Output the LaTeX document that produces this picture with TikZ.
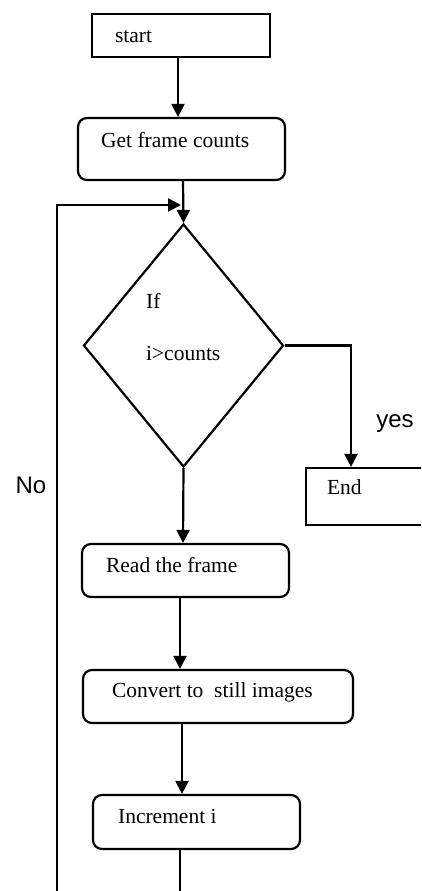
\documentclass[tikz,border=0pt]{standalone}
\usepackage{fontspec}
\setmainfont{Liberation Serif}
\newfontfamily\labelfont{Liberation Sans}
\usetikzlibrary{shapes.geometric,arrows.meta}
\begin{document}
\begin{tikzpicture}[x=1pt,y=-1pt,
  line width=2.2pt,
  sqbox/.style={draw,rectangle,inner sep=0pt},
  rbox/.style={draw,rectangle,rounded corners=9pt,inner sep=0pt},
  decision/.style={draw,diamond,inner sep=0pt,minimum width=200pt,minimum height=243pt,shape aspect=0.823},
  txt/.style={anchor=base west,inner sep=0pt,font=\fontsize{21.5}{25}\selectfont},
  side/.style={inner sep=0pt,font=\labelfont\fontsize{24}{28}\selectfont},
  arr/.style={-{Triangle[width=13pt,length=13pt]}}]
\clip (0,0) rectangle (421,891);
\fill[white] (0,0) rectangle (421,891);
% boxes
\node[sqbox,minimum width=178pt,minimum height=43pt] (start) at (181,35.5) {};
\node[rbox,minimum width=207pt,minimum height=62pt] (getf) at (181.5,149) {};
\node[decision] (dia) at (183.5,345.5) {};
\node[sqbox,minimum width=140pt,minimum height=57pt] (end) at (376,496.5) {};
\node[rbox,minimum width=207pt,minimum height=53pt] (read) at (185.5,570.5) {};
\node[rbox,minimum width=270pt,minimum height=53pt] (conv) at (218,696.5) {};
\node[rbox,minimum width=207pt,minimum height=54pt] (inc) at (196.5,822) {};
% texts
\node[txt] (tstart) at (114,43) {start};
\node[txt] (tgetf) at (100,147) {Get frame counts};
\node[txt] (tif) at (145,308) {If};
\node[txt] (tcond) at (145,360) {i>counts};
\node[txt] (tend) at (326,494) {End};
\node[txt] (tread) at (105,572) {Read the frame};
\node[txt] (tconv) at (111,697) {Convert to\ \ still images};
\node[txt] (tinc) at (117,823) {Increment i};
\node[side] (yes) at (395,424) {yes};
\node[side] (no) at (31,485) {No};
% connectors
\draw[arr] (178,0 |- start.south) -- (178,0 |- getf.north);
\draw[arr] (183,0 |- getf.south) -- (dia.north);
\draw[arr] (dia.east) -| (351,0 |- end.north);
\draw[arr] (dia.south) -- (183,0 |- read.north);
\draw[arr] (180,0 |- read.south) -- (180,0 |- conv.north);
\draw[arr] (182,0 |- conv.south) -- (182,0 |- inc.north);
\coordinate (incbot) at (180,895);
\coordinate (loopbot) at (57,895);
\coordinate (looptip) at (181,205);
\draw (180,0 |- inc.south) -- (incbot);
\draw[arr] (loopbot) |- (looptip);
\end{tikzpicture}
\end{document}
